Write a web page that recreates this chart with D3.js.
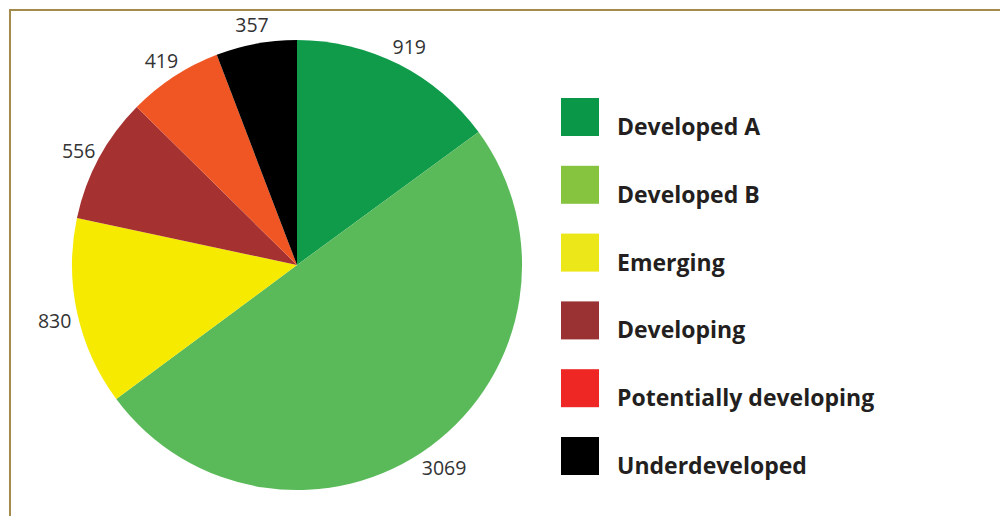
<!DOCTYPE html>
<html>
<head>
<meta charset="utf-8">
<script src="https://cdn.jsdelivr.net/npm/d3@7"></script>
<style>
  html, body { margin: 0; padding: 0; background: #fff; }
  svg { display: block; }
</style>
</head>
<body>
<svg id="chart" width="1000" height="516"></svg>
<script>
// ---- data ----
const categories = ["Developed A", "Developed B", "Emerging", "Developing", "Potentially developing", "Underdeveloped"];
const values = [919, 3069, 830, 556, 419, 357];
const pieColors = ["#0f9b4a", "#5aba5a", "#f5ea00", "#a53131", "#ef5623", "#000000"];
const legendColors = ["#0a9748", "#86c440", "#ece718", "#9a3233", "#ee2724", "#000000"];

const svg = d3.select("#chart");

// frame
svg.append("rect")
  .attr("x", 10).attr("y", 10)
  .attr("width", 1000).attr("height", 600)
  .attr("fill", "none")
  .attr("stroke", "#a38b4c")
  .attr("stroke-width", 2);

const cx = 297, cy = 265, r = 225, labelR = 248;

const data = categories.map((c, i) => ({ name: c, value: values[i], color: pieColors[i], legend: legendColors[i] }));

const pie = d3.pie().value(d => d.value).sort(null);
const arcs = pie(data);
const arc = d3.arc().innerRadius(0).outerRadius(r);

const g = svg.append("g").attr("transform", `translate(${cx},${cy})`);

g.selectAll("path.slice")
  .data(arcs)
  .join("path")
  .attr("class", "slice")
  .attr("d", arc)
  .attr("fill", d => d.data.color);

g.selectAll("text.val")
  .data(arcs)
  .join("text")
  .attr("class", "val")
  .attr("transform", d => {
    const a = (d.startAngle + d.endAngle) / 2;
    return `translate(${labelR * Math.sin(a)},${-labelR * Math.cos(a) + 3})`;
  })
  .attr("text-anchor", "middle")
  .attr("dominant-baseline", "central")
  .attr("font-family", "'Open Sans', sans-serif")
  .attr("font-size", "19.5px")
  .attr("fill", "#333333")
  .text(d => d.data.value);

// legend
const ly = d3.scalePoint().domain(categories).range([135, 474]);

const leg = svg.append("g");
leg.selectAll("rect")
  .data(data)
  .join("rect")
  .attr("x", 561)
  .attr("y", d => ly(d.name) - 37)
  .attr("width", 38)
  .attr("height", 38)
  .attr("fill", d => d.legend);

leg.selectAll("text")
  .data(data)
  .join("text")
  .attr("x", 617)
  .attr("y", d => ly(d.name))
  .attr("font-family", "'Open Sans', sans-serif")
  .attr("font-weight", "bold")
  .attr("font-size", "23px")
  .attr("fill", "#231f20")
  .text(d => d.name);
</script>
</body>
</html>
